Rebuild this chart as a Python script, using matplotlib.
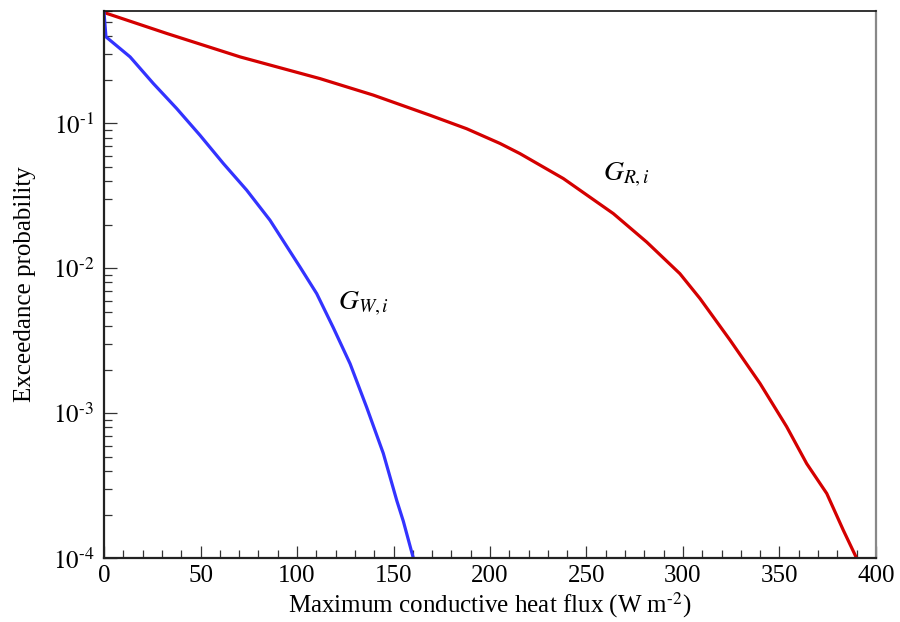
import matplotlib
matplotlib.use("Agg")
import matplotlib.pyplot as plt
from matplotlib.ticker import LogLocator, MultipleLocator, FuncFormatter, NullFormatter
import numpy as np

plt.rcParams['font.family'] = ['Liberation Serif', 'DejaVu Serif']
plt.rcParams['mathtext.fontset'] = 'stix'

# Data
red_x = [0, 32.5, 70.5, 111.9, 139.5, 168.9, 187.9, 205.2, 215.5, 238, 263.9,
         281.2, 298.4, 308.8, 324.4, 339.9, 353.7, 364.1, 374.5, 383.1, 390]
red_y = [0.583, 0.418, 0.288, 0.204, 0.157, 0.114, 0.092, 0.0728, 0.062, 0.0417,
         0.0239, 0.0152, 0.0092, 0.0062, 0.0032, 0.00161, 0.00081, 0.00045, 0.00028,
         0.000156, 0.0001]
blue_x = [0, 1, 13.5, 25.5, 37.6, 49.7, 61.8, 73.9, 86, 101.6, 110.2, 118.8,
          127.5, 136.1, 144.7, 151.7, 155.1, 160.3]
blue_y = [0.58, 0.396, 0.288, 0.189, 0.127, 0.083, 0.053, 0.0347, 0.0215,
          0.0102, 0.0067, 0.0039, 0.0022, 0.0011, 0.00053, 0.00025, 0.00018, 0.0001]
x_ticks = [0, 50, 100, 150, 200, 250, 300, 350, 400]
label_R = r'$G_{R,i}$'
label_W = r'$G_{W,i}$'

fig = plt.figure(figsize=(9, 6.22), dpi=100)
ax = fig.add_axes([0.1156, 0.1024, 0.8577, 0.8804])

ax.plot(red_x, red_y, color='#d40000', lw=2.3, solid_joinstyle='round')
ax.plot(blue_x, blue_y, color='#3333ff', lw=2.3, solid_joinstyle='round')

ax.set_yscale('log')
ax.set_xlim(0, 400)
ax.set_ylim(1e-4, 0.6)

def logfmt(v, pos):
    e = int(round(np.log10(v)))
    if e < 0:
        return r'$10^{\text{-}%d}$' % (-e)
    return r'$10^{%d}$' % e

ax.set_xticks(x_ticks)
ax.xaxis.set_minor_locator(MultipleLocator(10))
ax.yaxis.set_major_locator(LogLocator(base=10))
ax.yaxis.set_minor_locator(LogLocator(base=10, subs=range(2, 10)))
ax.yaxis.set_major_formatter(FuncFormatter(logfmt))
ax.yaxis.set_minor_formatter(NullFormatter())

ax.tick_params(which='both', direction='in', top=False, right=False,
               color='#333333', width=0.9, labelsize=18)
ax.tick_params(which='major', length=9)
ax.tick_params(which='minor', length=5.5)
ax.tick_params(axis='y', which='major', pad=7)
ax.tick_params(axis='x', which='major', pad=5)

for s in ['left', 'bottom']:
    ax.spines[s].set_linewidth(1.6)
    ax.spines[s].set_color('#222222')
ax.spines['top'].set_linewidth(1.2)
ax.spines['top'].set_color('#111111')
ax.spines['right'].set_linewidth(1.6)
ax.spines['right'].set_color('#888888')

ax.set_xlabel(r'Maximum conductive heat flux (W m$^{\text{-}2}$)', fontsize=18, labelpad=2)
ax.set_ylabel('Exceedance probability', fontsize=18, labelpad=12)

ax.text(258.4, 0.0402, label_R, fontsize=20, ha='left', va='baseline')
ax.text(121.2, 0.00522, label_W, fontsize=20, ha='left', va='baseline')

fig.savefig('out.png', dpi=100)
